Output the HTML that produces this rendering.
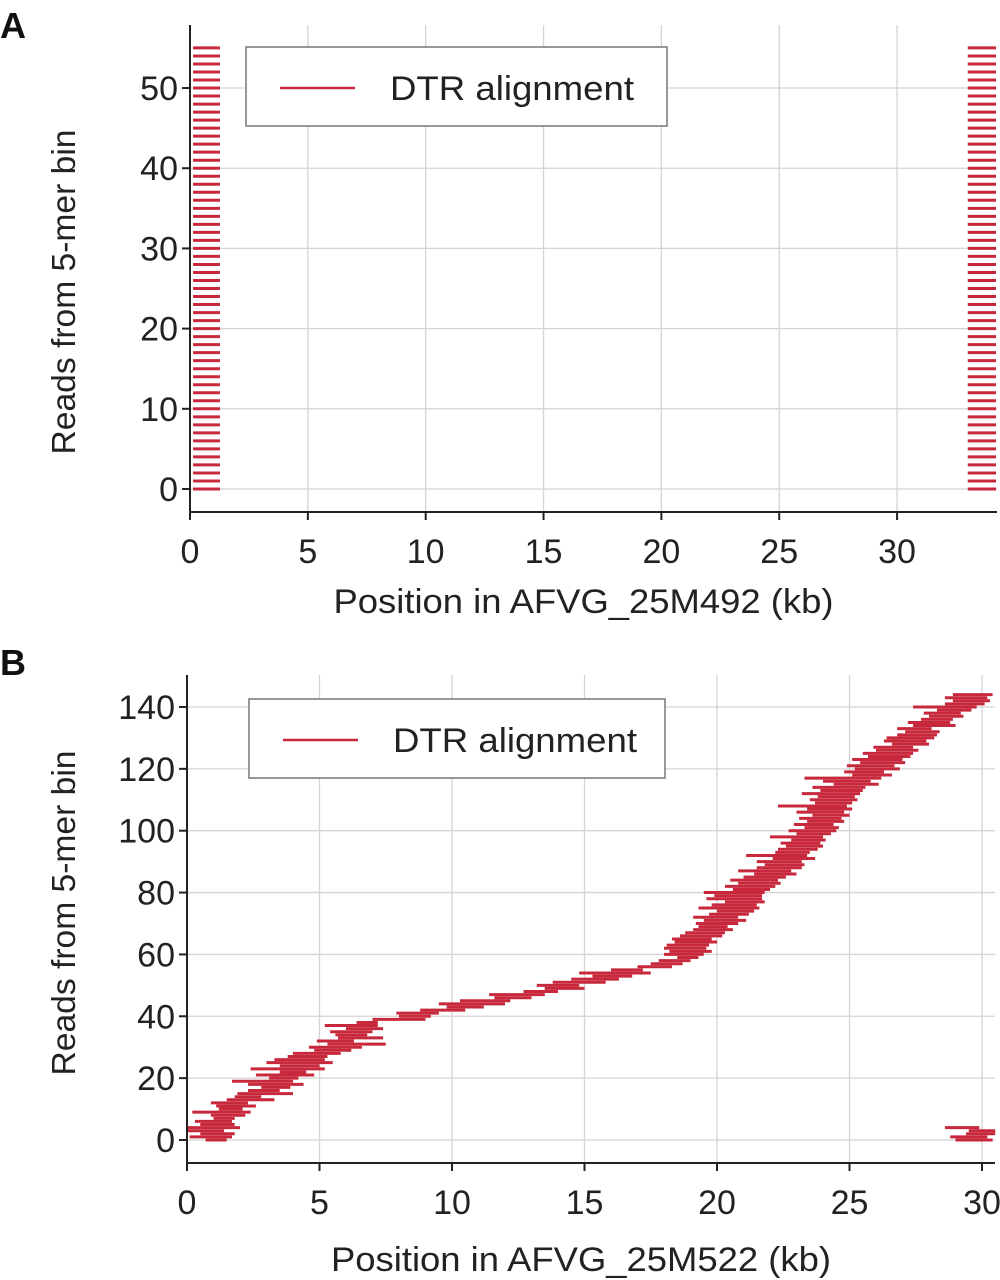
<!DOCTYPE html>
<html><head><meta charset="utf-8"><style>
html,body{margin:0;padding:0;background:#fff;width:1000px;height:1280px;overflow:hidden}
svg{display:block;font-family:"Liberation Sans",sans-serif}
</style></head><body>
<svg id="fig" width="1000" height="1280" viewBox="0 0 1000 1280"></svg>
<script>
// Panel A data
const aReads = [];
for (let i = 0; i <= 55; i++) aReads.push(i);
const aLeftStart = 0.13, aLeftEnd = 1.27, aRightStart = 33.0, aRightEnd = 34.2;
const aXTicks = [0,5,10,15,20,25,30];
const aYTicks = [0,10,20,30,40,50];
// Panel B data
const bStarts = [0.7,0.1,0.5,0.0,0.0,0.5,0.3,1.0,0.9,0.2,1.2,1.1,0.9,1.5,1.8,1.9,2.3,2.8,2.3,1.7,
3.1,2.6,3.5,2.4,3.5,3.0,3.3,3.8,4.0,4.8,4.6,5.3,4.9,5.7,5.6,5.4,6.0,5.2,6.4,7.0,
8.0,7.9,8.8,9.8,9.5,10.3,11.6,11.4,12.7,13.5,13.2,13.8,14.5,15.3,14.8,16.0,17.0,17.5,17.8,18.5,
18.0,18.2,18.0,18.1,18.4,18.3,18.6,18.8,19.1,19.3,19.2,19.5,19.1,19.7,20.0,19.3,19.8,20.3,19.6,19.9,
19.5,20.6,20.3,20.8,20.5,21.0,21.4,20.8,21.5,21.8,21.5,22.1,21.1,22.2,22.3,22.6,22.4,22.8,22.0,23.0,
22.7,23.3,22.9,23.4,23.1,23.6,23.0,23.4,22.3,23.7,23.5,23.8,23.2,23.9,23.6,24.4,24.0,23.3,25.1,24.8,
25.2,24.9,25.4,25.1,25.7,25.5,26.0,25.9,26.6,26.3,26.4,26.8,27.1,26.8,27.4,27.2,27.7,28.0,27.8,28.3,
27.4,28.6,28.9,28.6,28.9];
const bEnds = [1.5,1.7,1.8,1.4,2.0,1.8,1.7,1.8,2.2,2.4,2.1,2.6,2.3,3.3,2.8,4.0,3.5,3.9,4.4,4.0,
4.2,4.8,4.5,5.2,5.0,5.5,5.2,5.3,5.8,6.2,6.6,7.5,6.3,7.4,6.8,7.0,7.4,7.2,7.2,9.0,
9.2,9.5,10.5,11.2,12.0,12.2,13.0,13.5,14.0,15.0,14.8,15.8,16.3,16.8,17.5,17.2,18.3,18.7,19.0,19.3,
19.5,19.8,19.6,19.7,20.0,19.8,20.2,20.3,20.6,20.4,20.8,21.1,20.8,21.2,21.4,21.6,21.5,21.8,21.7,21.7,
21.8,22.0,22.2,22.4,22.3,22.6,23.0,22.8,23.2,23.3,23.2,23.7,23.4,23.5,23.8,24.0,23.9,24.1,24.0,24.3,
24.5,24.6,24.4,24.8,24.7,25.0,24.8,25.1,24.9,25.1,25.3,25.2,25.4,25.5,25.6,26.1,25.8,26.2,26.6,26.3,
26.9,26.7,27.1,27.0,27.3,27.4,27.6,27.4,28.0,27.9,28.2,28.3,28.4,28.1,29.0,28.8,28.9,29.3,29.2,29.6,
29.8,30.1,30.3,30.2,30.4];
const bWrapReads = [0,1,2,3,4];
const bWrapStarts = [29.0,28.8,29.4,29.5,28.6];
const bWrapEnds = [30.4,30.2,30.5,30.5,29.9];
const bXTicks = [0,5,10,15,20,25,30];
const bYTicks = [0,20,40,60,80,100,120,140];

const NS = "http://www.w3.org/2000/svg";
const svg = document.getElementById('fig');
function mk(tag, attrs, parent, txt) {
  const el = document.createElementNS(NS, tag);
  for (const k in attrs) el.setAttribute(k, attrs[k]);
  if (txt !== undefined) el.textContent = txt;
  (parent || svg).appendChild(el);
  return el;
}
const RED = "#c8283c";

function panel(cfg) {
  const g = mk('g', {});
  
  
  const sx = v => cfg.x0 + (v - cfg.xmin) / (cfg.xmax - cfg.xmin) * (cfg.x1 - cfg.x0);
  const sy = v => cfg.y0 - (v - cfg.ymin) / (cfg.ymax - cfg.ymin) * (cfg.y0 - cfg.y1);
  cfg.xticks.forEach(t => {
    const l = mk('line', {x1: sx(t), x2: sx(t), y1: cfg.y1, y2: cfg.y0, stroke: '#d4d4d4', 'stroke-width': 1.3}, g);
    
    
  });
  cfg.yticks.forEach(t => {
    const l = mk('line', {x1: cfg.x0, x2: cfg.x1, y1: sy(t), y2: sy(t), stroke: '#d4d4d4', 'stroke-width': 1.3}, g);
    
    
  });
  const marks = mk('g', {}, g);
  
  
  cfg.segs.forEach(s => {
    const l = mk('line', {x1: sx(s[1]), x2: sx(s[2]), y1: sy(s[0]), y2: sy(s[0]), stroke: RED, 'stroke-width': 3}, marks);
    
    
  });
  const ax = mk('path', {d: `M${cfg.x0},${cfg.y1} V${cfg.y0} H${cfg.x1}`, fill: 'none', stroke: '#222', 'stroke-width': 2}, g);
  
  
  cfg.xticks.forEach(t => {
    mk('line', {x1: sx(t), x2: sx(t), y1: cfg.y0, y2: cfg.y0 + 8, stroke: '#222', 'stroke-width': 2}, g);
    const tx = mk('text', {x: sx(t), y: cfg.y0 + 51, 'font-size': 34, 'text-anchor': 'middle', fill: '#222'}, g, t);
    
    
  });
  cfg.yticks.forEach(t => {
    mk('line', {x1: cfg.x0 - 8, x2: cfg.x0, y1: sy(t), y2: sy(t), stroke: '#222', 'stroke-width': 2}, g);
    const tx = mk('text', {x: cfg.x0 - 12, y: sy(t) + 12, 'font-size': 34, 'text-anchor': 'end', fill: '#222'}, g, t);
    
    
  });
  const xt = mk('text', {x: (cfg.x0 + cfg.x1) / 2 - 10, y: cfg.xtitleY, 'font-size': 34, 'text-anchor': 'middle', fill: '#222', textLength: 500, lengthAdjust: 'spacingAndGlyphs'}, g, cfg.xtitle);
  
  
  const yt = mk('text', {x: 0, y: 0, 'font-size': 33, 'text-anchor': 'middle', fill: '#222', textLength: 325, lengthAdjust: 'spacingAndGlyphs',
    transform: `translate(75,${cfg.ytitleY}) rotate(-90)`}, g, 'Reads from 5-mer bin');
  
  
  const lg = mk('g', {}, g);
  
  
  mk('rect', {x: cfg.lx, y: cfg.ly, width: cfg.lw, height: 79, fill: '#fff', stroke: '#777', 'stroke-width': 1.5}, lg);
  const le = mk('line', {x1: cfg.lx + 34, x2: cfg.lx + 109, y1: cfg.ly + 41, y2: cfg.ly + 41, stroke: RED, 'stroke-width': 2.6}, lg);
  
  
  const lt = mk('text', {x: cfg.lx + 144, y: cfg.ly + 53, 'font-size': 34, fill: '#222', textLength: 244, lengthAdjust: 'spacingAndGlyphs'}, lg, 'DTR alignment');
  
  
  const pl = mk('text', {x: 0, y: cfg.labelY, 'font-size': 36, 'font-weight': 'bold', fill: '#111'}, g, cfg.label);
  
  
}

const aSegs = [];
aReads.forEach(r => { aSegs.push([r, aLeftStart, aLeftEnd]); aSegs.push([r, aRightStart, aRightEnd]); });
panel({name: 'panel-a', x0: 190, x1: 997, y0: 512, y1: 25, xmin: 0, xmax: 34.24, ymin: -2.87, ymax: 57.86,
  xticks: aXTicks, yticks: aYTicks, segs: aSegs, xtitle: 'Position in AFVG_25M492 (kb)', xtitleY: 613, ytitleY: 292,
  lx: 246, ly: 47, lw: 421, label: 'A', labelY: 38});

const bSegs = [];
bStarts.forEach((s, i) => bSegs.push([i, s, bEnds[i]]));
bWrapReads.forEach((r, i) => bSegs.push([r, bWrapStarts[i], bWrapEnds[i]]));
panel({name: 'panel-b', x0: 187, x1: 995, y0: 1163, y1: 675, xmin: 0, xmax: 30.49, ymin: -7.44, ymax: 150.34,
  xticks: bXTicks, yticks: bYTicks, segs: bSegs, xtitle: 'Position in AFVG_25M522 (kb)', xtitleY: 1271, ytitleY: 913,
  lx: 249, ly: 699, lw: 416, label: 'B', labelY: 675});
</script>
</body></html>
